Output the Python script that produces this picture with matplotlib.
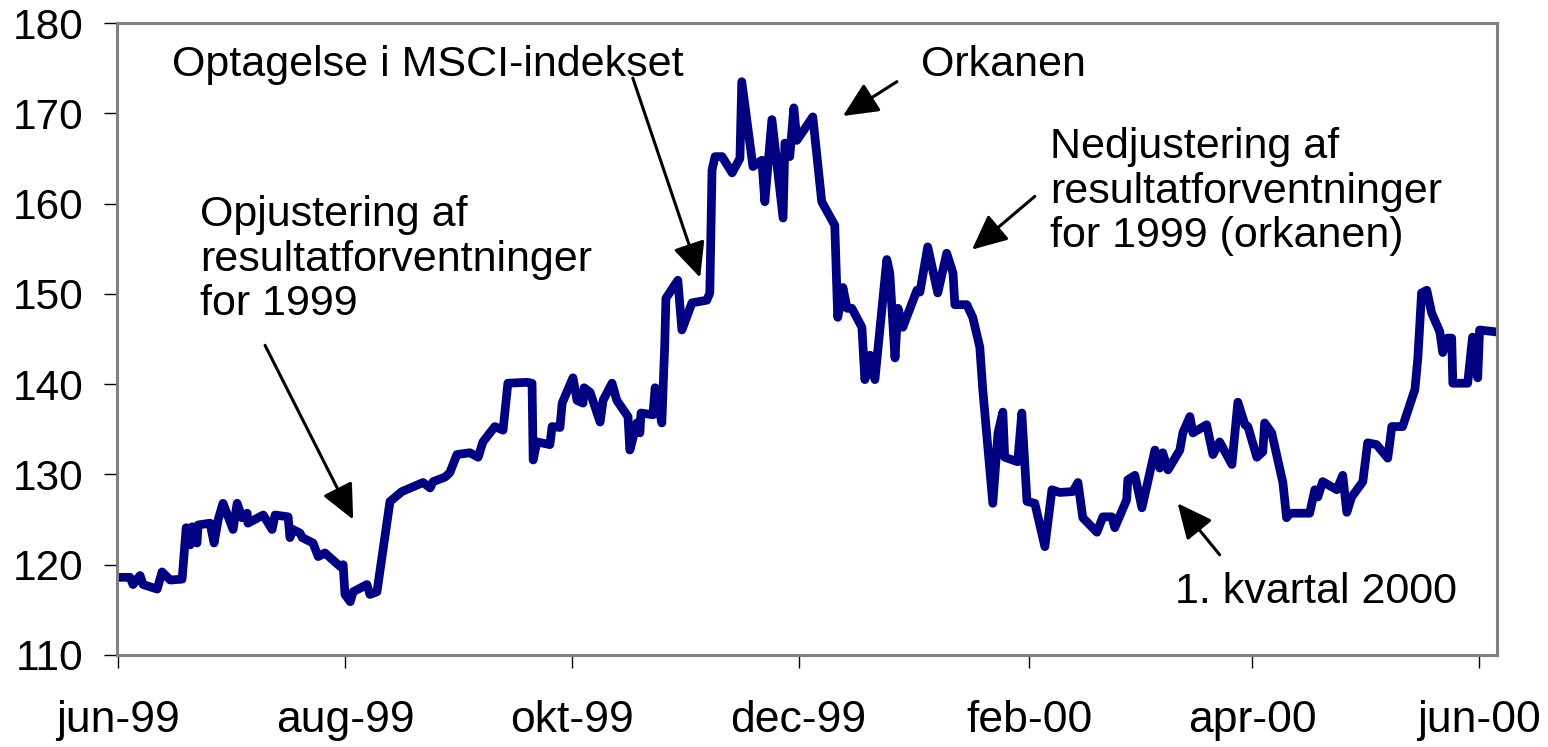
import matplotlib
matplotlib.use('Agg')
import matplotlib.pyplot as plt
import matplotlib.dates as mdates
import pandas as pd

# index level; day = days since 1 Jun 1999
start = pd.Timestamp('1999-06-01')
days = [0, 3.2, 4.0, 5.9, 6.7, 10.5, 11.8, 14.0, 17.2, 18.3, 19.4, 19.9, 21.2, 21.5,
        24.7, 25.8, 26.9, 28.2, 30.9, 32.0, 33.3, 34.7, 34.9, 39.0, 41.4, 42.2, 45.7,
        46.2, 47.0, 48.9, 49.5, 52.4, 53.8, 55.6, 59.7, 60.5, 61.0, 62.4, 63.2, 66.9,
        67.7, 69.6, 73.1, 76.3, 82.0, 83.9, 84.7, 87.9, 89.2, 91.1, 94.6, 96.8, 98.1,
        101.3, 103.5, 104.8, 109.9, 111.3, 111.6, 112.6, 116.1, 116.7, 118.8, 119.4,
        122.3, 123.4, 125.0, 125.3, 126.9, 129.6, 130.4, 132.8, 134.1, 137.1, 137.6,
        139.5, 140.3, 140.6, 143.8, 144.4, 146.2, 147.0, 147.3, 150.5, 151.6, 154.3,
        158.3, 159.1, 159.7, 160.5, 162.4, 165.1, 167.2, 167.7, 170.7, 173.1, 173.9,
        175.8, 178.8, 179.3, 180.6, 181.7, 182.5, 186.8, 189.2, 192.7, 193.5, 194.9,
        196.0, 197.3, 200.0, 200.8, 202.2, 203.5, 206.7, 207.5, 208.9, 209.7, 211.0,
        214.8, 215.6, 217.7, 220.4, 222.8, 224.5, 225.0, 228.2, 229.8, 231.7, 232.5,
        235.2, 236.6, 237.9, 238.4, 241.9, 243.0, 244.4, 246.5, 249.2, 251.1, 253.2,
        256.7, 258.1, 259.4, 263.2, 264.8, 267.2, 268.0, 271.2, 271.5, 273.4, 275.3,
        278.8, 280.1, 280.9, 282.3, 285.5, 286.3, 288.2, 289.0, 292.7, 294.4, 296.2,
        299.5, 301.1, 303.0, 303.8, 306.2, 307.8, 308.3, 310.2, 313.2, 314.2, 315.1,
        320.4, 321.8, 322.6, 323.9, 327.7, 329.3, 330.4, 331.7, 334.7, 336.0, 338.4,
        341.4, 342.5, 345.4, 348.7, 349.5, 350.5, 351.9, 353.2, 355.4, 356.2, 357.5,
        358.6, 358.9, 362.9, 364.2, 365.6, 366.1, 370.2]
values = [118.6, 118.6, 117.8, 118.8, 117.8, 117.3, 119.2, 118.3, 118.4, 124.1, 122.2,
          124.2, 122.4, 124.4, 124.6, 122.4, 125.0, 126.8, 123.9, 126.8, 125.2, 125.7,
          124.6, 125.5, 123.9, 125.5, 125.3, 123.0, 123.9, 123.5, 123.0, 122.4, 120.9,
          121.3, 119.8, 120.0, 116.7, 115.9, 117.0, 117.8, 116.7, 117.0, 127.0, 128.1,
          129.1, 128.5, 129.2, 129.7, 130.2, 132.2, 132.4, 131.9, 133.6, 135.3, 134.9,
          140.1, 140.2, 140.1, 131.6, 133.6, 133.3, 135.3, 135.2, 137.9, 140.7, 138.2,
          137.9, 139.6, 139.1, 135.8, 138.2, 140.1, 138.2, 136.4, 132.7, 135.7, 134.6,
          136.8, 136.6, 139.6, 135.7, 144.6, 149.5, 151.5, 146.0, 149.0, 149.3, 150.1,
          163.7, 165.2, 165.2, 163.4, 165.0, 173.5, 164.1, 164.8, 160.2, 169.3, 158.4,
          166.7, 165.2, 170.6, 167.0, 169.6, 160.2, 157.6, 147.4, 150.7, 148.4, 148.4,
          146.3, 140.5, 143.2, 140.5, 153.8, 152.3, 142.9, 148.4, 146.3, 150.4, 150.2,
          155.2, 150.1, 154.5, 152.3, 148.8, 148.8, 147.4, 144.1, 139.4, 126.8, 134.6,
          136.9, 131.9, 131.4, 136.8, 127.0, 126.8, 122.0, 128.3, 128.0, 128.1, 129.1,
          125.2, 123.6, 125.3, 125.3, 124.1, 127.2, 129.4, 129.9, 126.3, 132.7, 130.7,
          132.4, 130.5, 132.7, 134.6, 136.4, 134.6, 135.5, 132.2, 133.6, 131.1, 138.0,
          135.5, 135.3, 131.9, 132.5, 135.7, 134.6, 129.1, 125.2, 125.7, 125.7, 128.3,
          127.5, 129.2, 128.3, 129.9, 125.8, 127.5, 129.2, 133.5, 133.3, 131.8, 135.3,
          135.3, 139.4, 142.9, 150.1, 150.4, 147.9, 145.8, 143.5, 145.1, 145.1, 140.1,
          140.1, 145.2, 140.7, 146.0, 145.8]

tick_dates = ['1999-06-01', '1999-08-01', '1999-10-01', '1999-12-01',
              '2000-02-01', '2000-04-01', '2000-06-01']
tick_labels = ['jun-99', 'aug-99', 'okt-99', 'dec-99', 'feb-00', 'apr-00', 'jun-00']
y_ticks = [110, 120, 130, 140, 150, 160, 170, 180]


def d(day):
    return mdates.date2num(start + pd.Timedelta(days=day))


plt.rcParams['font.family'] = ['Liberation Sans', 'DejaVu Sans']

fig = plt.figure(figsize=(15.48, 7.47), dpi=100)
ax = fig.add_axes([0.0756, 0.1232, 0.8915, 0.846])

dates = start + pd.to_timedelta(days, unit='D')
ax.plot(dates, values, color='#000080', lw=6.3)

ax.set_ylim(110, 180)
ax.set_yticks(y_ticks)
ax.set_xlim(d(-0.3), d(370.8))
ax.set_xticks(pd.to_datetime(tick_dates))
ax.set_xticklabels(tick_labels)

for s in ax.spines.values():
    s.set_color('#808080')
    s.set_linewidth(2.2)

ax.tick_params(axis='both', direction='out', length=9.5, width=1, color='black')
ax.tick_params(axis='x', labelsize=32, pad=23)
ax.tick_params(axis='y', labelsize=30.5, pad=15)

arrow = dict(arrowstyle='-|>,head_length=0.43,head_width=0.2', mutation_scale=50,
             lw=2.2, color='black', shrinkA=0, shrinkB=0)
fs = 31

ax.text(d(22.0), 153.8, 'Opjustering af\nresultatforventninger\nfor 1999',
        fontsize=fs, va='center', ha='left', linespacing=1.15)
ax.annotate('', xy=(d(63.2), 125.0), xytext=(d(39.5), 144.3), arrowprops=arrow)

ax.text(d(14.5), 175.3, 'Optagelse i MSCI-indekset', fontsize=fs, va='center', ha='left')
ax.annotate('', xy=(d(156.5), 151.8), xytext=(d(138.4), 173.9), arrowprops=arrow)

ax.text(d(215.9), 175.3, 'Orkanen', fontsize=fs, va='center', ha='left')
ax.annotate('', xy=(d(194.9), 169.7), xytext=(d(209.4), 173.5), arrowprops=arrow)

ax.text(d(250.5), 161.3, 'Nedjustering af\nresultatforventninger\nfor 1999 (orkanen)',
        fontsize=fs, va='center', ha='left', linespacing=1.15)
ax.annotate('', xy=(d(229.6), 154.9), xytext=(d(246.5), 160.8), arrowprops=arrow)

ax.text(d(284.1), 117.0, '1. kvartal 2000', fontsize=fs, va='center', ha='left')
ax.annotate('', xy=(d(284.9), 126.8), xytext=(d(296.2), 121.1), arrowprops=arrow)

fig.savefig('out.png', dpi=100)
